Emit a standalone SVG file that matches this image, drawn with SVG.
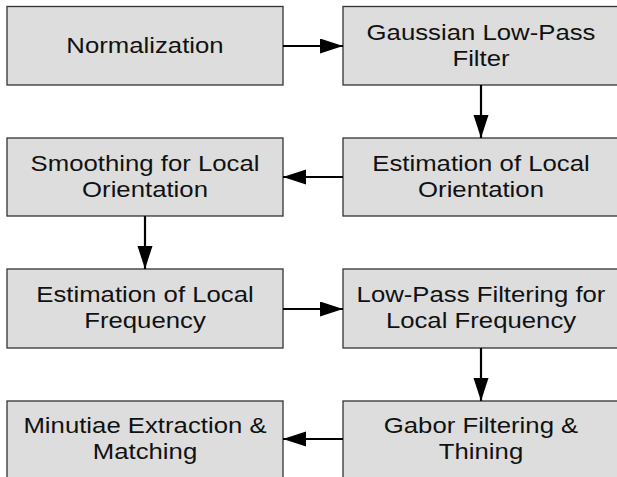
<svg xmlns="http://www.w3.org/2000/svg" width="617" height="477" viewBox="0 0 617 477">
<defs>
<style>
.box{fill:#dddddd;stroke:#333333;stroke-width:1.3}
.lbl{font-family:"Liberation Sans",Arial,sans-serif;font-size:22px;fill:#111111;text-anchor:middle}
.conn{stroke:#000000;stroke-width:2.2;fill:none}
</style>
<marker id="ah" markerUnits="userSpaceOnUse" markerWidth="24" markerHeight="16" refX="23" refY="7.5" orient="auto">
<path d="M0,0 L23,7.5 L0,15 z" fill="#000000"/>
</marker>
</defs>
<rect width="617" height="477" fill="#ffffff"/>
<g id="n1">
<rect class="box" x="7" y="6.5" width="276" height="78.5"/>
<text class="lbl" transform="translate(145,53) scale(1.17,1)" x="0" y="0">Normalization</text>
</g>
<g id="n2">
<rect class="box" x="343" y="6.5" width="276" height="78.5"/>
<text class="lbl" transform="translate(481,39.5) scale(1.17,1)"><tspan x="0" y="0">Gaussian Low-Pass</tspan><tspan x="0" y="26.5">Filter</tspan></text>
</g>
<g id="n3">
<rect class="box" x="343" y="138" width="276" height="78"/>
<text class="lbl" transform="translate(481,170.5) scale(1.17,1)"><tspan x="0" y="0">Estimation of Local</tspan><tspan x="0" y="26.5">Orientation</tspan></text>
</g>
<g id="n4">
<rect class="box" x="7" y="138" width="276" height="78"/>
<text class="lbl" transform="translate(145,170.5) scale(1.17,1)"><tspan x="0" y="0">Smoothing for Local</tspan><tspan x="0" y="26.5">Orientation</tspan></text>
</g>
<g id="n5">
<rect class="box" x="7" y="269" width="276" height="79"/>
<text class="lbl" transform="translate(145,302) scale(1.17,1)"><tspan x="0" y="0">Estimation of Local</tspan><tspan x="0" y="26.5">Frequency</tspan></text>
</g>
<g id="n6">
<rect class="box" x="343" y="269" width="276" height="79"/>
<text class="lbl" transform="translate(481,302) scale(1.17,1)"><tspan x="0" y="0">Low-Pass Filtering for</tspan><tspan x="0" y="26.5">Local Frequency</tspan></text>
</g>
<g id="n7">
<rect class="box" x="343" y="401" width="276" height="80"/>
<text class="lbl" transform="translate(481,433) scale(1.17,1)"><tspan x="0" y="0">Gabor Filtering &amp;</tspan><tspan x="0" y="26.5">Thining</tspan></text>
</g>
<g id="n8">
<rect class="box" x="7" y="401" width="276" height="80"/>
<text class="lbl" transform="translate(145,433) scale(1.17,1)"><tspan x="0" y="0">Minutiae Extraction &amp;</tspan><tspan x="0" y="26.5">Matching</tspan></text>
</g>
<g id="connectors">
<line class="conn" x1="283" y1="46" x2="343" y2="46" marker-end="url(#ah)"/>
<line class="conn" x1="481" y1="85" x2="481" y2="138" marker-end="url(#ah)"/>
<line class="conn" x1="343" y1="177" x2="283" y2="177" marker-end="url(#ah)"/>
<line class="conn" x1="145" y1="216" x2="145" y2="269" marker-end="url(#ah)"/>
<line class="conn" x1="283" y1="309" x2="343" y2="309" marker-end="url(#ah)"/>
<line class="conn" x1="481" y1="348" x2="481" y2="401" marker-end="url(#ah)"/>
<line class="conn" x1="343" y1="439" x2="283" y2="439" marker-end="url(#ah)"/>
</g>
</svg>
